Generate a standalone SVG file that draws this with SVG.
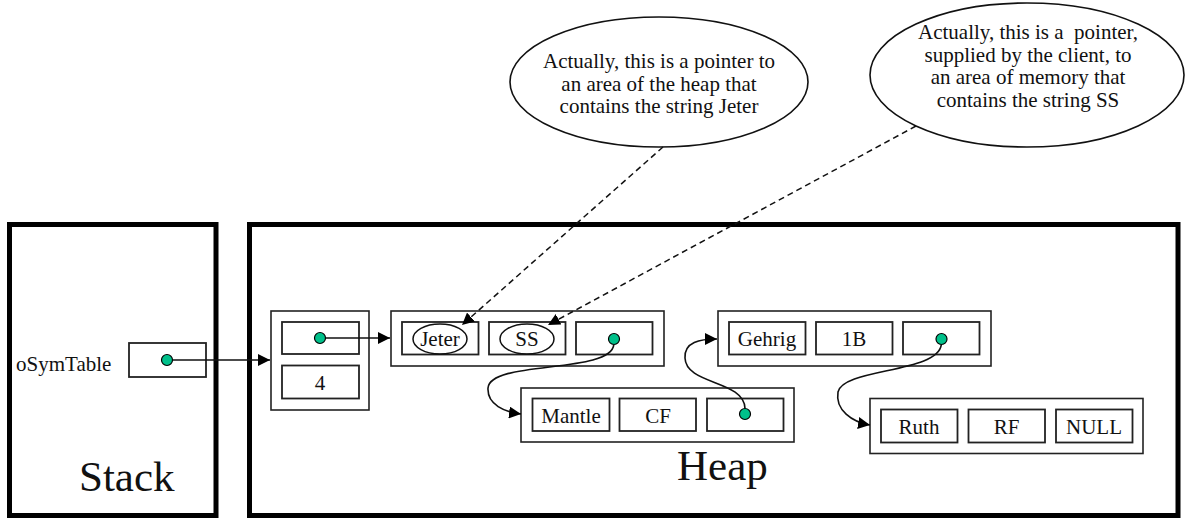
<svg xmlns="http://www.w3.org/2000/svg" width="1185" height="518" viewBox="0 0 1185 518">
<style>
.area{fill:#fff;stroke:#000;stroke-width:5}
.outer{fill:#fff;stroke:#222;stroke-width:1.6}
.cell{fill:#fff;stroke:#222;stroke-width:1.8}
.dot{fill:#00c08a;stroke:#000;stroke-width:1.2}
.t{font-family:'Liberation Serif','DejaVu Serif',serif;font-size:21px;fill:#111;text-anchor:middle}
.big{font-family:'Liberation Serif','DejaVu Serif',serif;font-size:43px;fill:#111}
.note{fill:#fff;stroke:#111;stroke-width:1.6}
.con{fill:none;stroke:#111;stroke-width:1.6}
.dash{fill:none;stroke:#111;stroke-width:1.5;stroke-dasharray:6 4}
.oval{fill:none;stroke:#111;stroke-width:1.5}
</style>
<defs>
<marker id="ah" markerUnits="userSpaceOnUse" markerWidth="14" markerHeight="12" refX="12" refY="6" orient="auto"><path d="M0,0 L12,6 L0,12 Z" fill="#000"/></marker>
</defs>
<g id="stack"><rect class="area" x="9.5" y="224.5" width="206.5" height="291"/><text class="big" x="79" y="491" style="text-anchor:start">Stack</text></g>
<g id="heap"><rect class="area" x="249.5" y="224.5" width="928.5" height="291"/><text class="big" x="677" y="480" style="text-anchor:start">Heap</text></g>
<g id="note1"><ellipse class="note" cx="659" cy="82" rx="149" ry="65"/>
<text class="t" x="659" y="68">Actually, this is a pointer to</text>
<text class="t" x="659" y="90.5">an area of the heap that</text>
<text class="t" x="659" y="113">contains the string Jeter</text></g>
<g id="note2"><ellipse class="note" cx="1027" cy="75" rx="157" ry="72"/>
<text class="t" x="1028" y="39" style="white-space:pre">Actually, this is a  pointer,</text>
<text class="t" x="1028" y="61.5">supplied by the client, to</text>
<text class="t" x="1028" y="84">an area of memory that</text>
<text class="t" x="1028" y="106.5">contains the string SS</text></g>
<g id="osymtable"><text class="t" x="16" y="371" style="text-anchor:start">oSymTable</text><rect class="cell" x="129" y="343" width="77" height="34"/><circle class="dot" cx="167" cy="360" r="5.5"/></g>
<g id="table"><rect class="outer" x="271" y="311" width="98" height="99"/>
<rect class="cell" x="282" y="322" width="77" height="32"/><circle class="dot" cx="320" cy="338" r="5.5"/>
<rect class="cell" x="282" y="365.5" width="77" height="33"/><text class="t" x="320" y="390">4</text></g>
<g id="node-jeter"><rect class="outer" x="391" y="311" width="273" height="55"/>
<rect class="cell" x="402" y="322" width="76.5" height="32.5"/><ellipse class="oval" cx="440" cy="339" rx="27" ry="15"/><text class="t" x="440" y="345.5">Jeter</text>
<rect class="cell" x="489" y="322" width="76.5" height="32.5"/><ellipse class="oval" cx="527" cy="339" rx="27" ry="15"/><text class="t" x="527" y="345.5">SS</text>
<rect class="cell" x="576" y="322" width="76.5" height="32.5"/><circle class="dot" cx="614" cy="339" r="5.5"/></g>
<g id="node-mantle"><rect class="outer" x="521" y="388" width="273" height="54"/>
<rect class="cell" x="532.5" y="398.5" width="77" height="32.5"/><text class="t" x="571" y="422.5">Mantle</text>
<rect class="cell" x="619.5" y="398.5" width="76.5" height="32.5"/><text class="t" x="658" y="422.5">CF</text>
<rect class="cell" x="707" y="398.5" width="76.5" height="32.5"/><circle class="dot" cx="745" cy="414" r="5.5"/></g>
<g id="node-gehrig"><rect class="outer" x="718" y="311" width="273" height="55"/>
<rect class="cell" x="729" y="322" width="76.5" height="32.5"/><text class="t" x="767" y="345.5">Gehrig</text>
<rect class="cell" x="816" y="322" width="76.5" height="32.5"/><text class="t" x="854" y="345.5">1B</text>
<rect class="cell" x="903" y="322" width="76.5" height="32.5"/><circle class="dot" cx="941.5" cy="339" r="5.5"/></g>
<g id="node-ruth"><rect class="outer" x="870" y="398.5" width="273" height="55"/>
<rect class="cell" x="881" y="409.5" width="76.5" height="33"/><text class="t" x="919" y="433.5">Ruth</text>
<rect class="cell" x="968.5" y="409.5" width="76.5" height="33"/><text class="t" x="1006.5" y="433.5">RF</text>
<rect class="cell" x="1056" y="409.5" width="76.5" height="33"/><text class="t" x="1094" y="433.5">NULL</text></g>
<g id="connectors">
<line class="dash" x1="663" y1="147" x2="462" y2="325" marker-end="url(#ah)"/>
<line class="dash" x1="916" y1="126" x2="548" y2="325" marker-end="url(#ah)"/>
<line class="con" x1="172.6" y1="360" x2="270" y2="360" marker-end="url(#ah)"/>
<line class="con" x1="325.6" y1="338" x2="390" y2="338" marker-end="url(#ah)"/>
<path class="con" d="M613.8,344.6 C611,374 490,360 488,388 C487,405 505,412 521,414" marker-end="url(#ah)"/>
<path class="con" d="M745,408.4 C744,380 686,385 685,358 C684,342 700,339 717,339" marker-end="url(#ah)"/>
<path class="con" d="M941.3,344.6 C938,373 843,368 838,392 C835,410 852,422 870,425" marker-end="url(#ah)"/>
</g>
</svg>
